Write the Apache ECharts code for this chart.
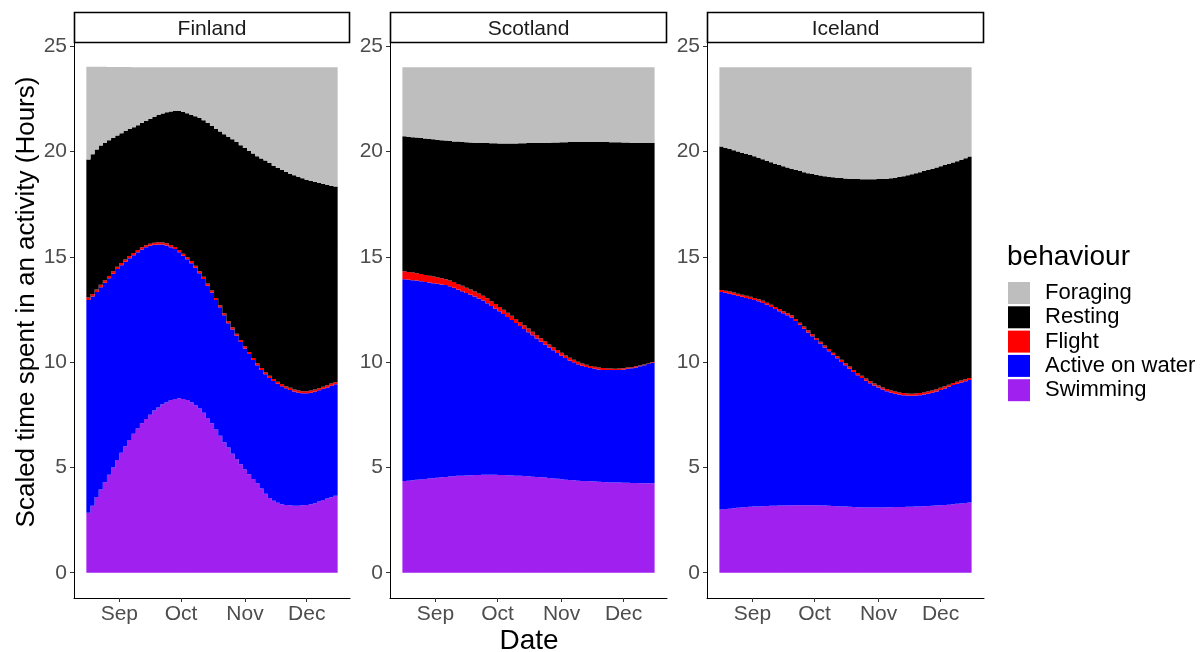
<!DOCTYPE html>
<html><head><meta charset="utf-8">
<script src="https://cdn.jsdelivr.net/npm/echarts@6/dist/echarts.min.js"></script>
<style>html,body{margin:0;padding:0;background:#fff}#c{width:1203px;height:652px}</style>
</head><body><div id="c"></div>
<script>
// ---------- data ----------
const dates = [
 '2019-08-17','2019-08-19','2019-08-21','2019-08-23','2019-08-25','2019-08-27','2019-08-29','2019-08-31',
 '2019-09-02','2019-09-04','2019-09-06','2019-09-08','2019-09-10','2019-09-12','2019-09-14','2019-09-16',
 '2019-09-18','2019-09-20','2019-09-22','2019-09-24','2019-09-26','2019-09-28','2019-09-30',
 '2019-10-02','2019-10-04','2019-10-06','2019-10-08','2019-10-10','2019-10-12','2019-10-14','2019-10-16',
 '2019-10-18','2019-10-20','2019-10-22','2019-10-24','2019-10-26','2019-10-28','2019-10-30',
 '2019-11-01','2019-11-03','2019-11-05','2019-11-07','2019-11-09','2019-11-11','2019-11-13','2019-11-15',
 '2019-11-17','2019-11-19','2019-11-21','2019-11-23','2019-11-25','2019-11-27','2019-11-29',
 '2019-12-01','2019-12-03','2019-12-05','2019-12-07','2019-12-09','2019-12-11','2019-12-13','2019-12-15'
];
// empty dates on the axis either side of the data (the plot's side padding)
const padBefore = ['2019-08-11', '2019-08-13', '2019-08-15'];
const padAfter = ['2019-12-17', '2019-12-19', '2019-12-21'];
const panels = ['Finland', 'Scotland', 'Iceland'];
const behaviours = ['Foraging', 'Resting', 'Flight', 'Active on water', 'Swimming'];
const monthTickDates = ['2019-09-01', '2019-10-01', '2019-11-01', '2019-12-01'];
const monthLabels = ['Sep', 'Oct', 'Nov', 'Dec'];
const yTicks = [0, 5, 10, 15, 20, 25];

const finlandSwimming = [2.85,3.18,3.6,3.95,4.3,4.65,5.0,5.35,5.7,6.0, 6.3,6.6,6.85,7.1,7.3,7.5,7.7,7.85,8.0,8.1, 8.2,8.25,8.28,8.25,8.2,8.1,7.95,7.8,7.6,7.35, 7.1,6.8,6.5,6.2,5.95,5.65,5.4,5.15,4.9,4.68, 4.45,4.25,4.0,3.75,3.55,3.42,3.32,3.25,3.22,3.2, 3.18,3.18,3.2,3.22,3.25,3.3,3.38,3.45,3.52,3.58,3.65];
const finlandActive = [10.10,9.94,9.73,9.60,9.47,9.33,9.20,9.07,8.90,8.76, 8.63,8.48,8.37,8.25,8.15,8.02,7.87,7.74,7.58,7.44, 7.26,7.12,6.94,6.80,6.68,6.60,6.53,6.42,6.35,6.28, 6.20,6.15,6.10,6.02,5.90,5.90,5.85,5.80,5.75,5.70, 5.65,5.60,5.62,5.67,5.70,5.68,5.65,5.61,5.54,5.48, 5.42,5.37,5.32,5.30,5.30,5.30,5.28,5.28,5.28,5.30,5.30];
const finlandFlight = [0.12,0.12,0.12,0.12,0.12,0.11,0.11,0.11,0.11,0.11, 0.11,0.1,0.1,0.1,0.1,0.1,0.1,0.1,0.1,0.1, 0.1,0.1,0.1,0.1,0.1,0.1,0.1,0.1,0.1,0.1, 0.1,0.1,0.1,0.1,0.1,0.1,0.1,0.1,0.1,0.1, 0.1,0.1,0.1,0.1,0.1,0.1,0.1,0.1,0.1,0.1, 0.1,0.1,0.1,0.1,0.1,0.1,0.1,0.1,0.1,0.1,0.1];
const finlandResting = [6.55,6.63,6.65,6.62,6.53,6.44,6.33,6.23,6.16,6.10, 6.03,5.97,5.93,5.90,5.90,5.93,5.98,6.04,6.12,6.22, 6.34,6.45,6.60,6.73,6.84,6.95,7.10,7.28,7.43,7.62, 7.82,8.03,8.25,8.50,8.75,8.93,9.10,9.25,9.42,9.55, 9.70,9.83,9.95,10.05,10.10,10.13,10.15,10.16,10.17,10.17, 10.17,10.15,10.11,10.04,9.95,9.86,9.75,9.64,9.52,9.40,9.29];
const finlandForaging = [4.40,4.15,3.92,3.73,3.60,3.48,3.37,3.25,3.14,3.04, 2.94,2.85,2.75,2.65,2.55,2.45,2.35,2.27,2.20,2.14, 2.10,2.08,2.08,2.12,2.18,2.25,2.32,2.40,2.52,2.65, 2.78,2.92,3.05,3.18,3.30,3.42,3.55,3.70,3.83,3.97, 4.10,4.22,4.33,4.43,4.55,4.67,4.78,4.88,4.97,5.05, 5.13,5.20,5.27,5.34,5.40,5.44,5.49,5.53,5.58,5.62,5.66];

const scotlandSwimming = [4.35,4.37,4.39,4.41,4.43,4.45,4.47,4.49,4.51,4.53, 4.55,4.57,4.58,4.60,4.61,4.62,4.63,4.64,4.64,4.65, 4.65,4.65,4.65,4.64,4.64,4.63,4.62,4.61,4.60,4.59, 4.58,4.56,4.55,4.53,4.52,4.50,4.48,4.46,4.44,4.42, 4.40,4.39,4.37,4.36,4.35,4.34,4.33,4.32,4.31,4.30, 4.29,4.28,4.28,4.27,4.27,4.26,4.26,4.25,4.25,4.25,4.25];
const scotlandActive = [9.58,9.54,9.50,9.46,9.41,9.36,9.31,9.26,9.21,9.16, 9.11,9.03,8.95,8.85,8.76,8.66,8.57,8.47,8.38,8.27, 8.15,8.02,7.89,7.77,7.64,7.51,7.38,7.25,7.12,6.98, 6.84,6.71,6.57,6.44,6.31,6.19,6.08,5.97,5.86,5.77, 5.68,5.60,5.53,5.47,5.42,5.38,5.35,5.33,5.32,5.32, 5.33,5.34,5.35,5.38,5.41,5.45,5.49,5.55,5.60,5.66,5.72];
const scotlandFlight = [0.38,0.37,0.36,0.35,0.34,0.33,0.32,0.31,0.30,0.29, 0.28,0.27,0.27,0.26,0.26,0.25,0.25,0.24,0.24,0.23, 0.23,0.22,0.22,0.21,0.21,0.20,0.20,0.19,0.19,0.18, 0.18,0.17,0.17,0.16,0.16,0.15,0.15,0.14,0.14,0.13, 0.13,0.12,0.12,0.11,0.11,0.10,0.10,0.09,0.09,0.08, 0.08,0.07,0.07,0.06,0.06,0.05,0.05,0.04,0.04,0.03,0.03];
const scotlandResting = [6.41,6.42,6.43,6.44,6.46,6.48,6.50,6.52,6.54,6.56, 6.58,6.63,6.68,6.76,6.82,6.91,6.98,7.07,7.15,7.25, 7.37,7.50,7.63,7.76,7.89,8.04,8.18,8.33,8.48,8.64, 8.80,8.96,9.12,9.28,9.43,9.58,9.72,9.86,10.00,10.12, 10.24,10.34,10.43,10.51,10.57,10.63,10.67,10.71,10.73,10.75, 10.74,10.75,10.74,10.72,10.69,10.66,10.62,10.57,10.52,10.46,10.40];
const scotlandForaging = [3.28,3.30,3.32,3.34,3.36,3.38,3.40,3.42,3.44,3.46, 3.48,3.50,3.52,3.53,3.55,3.56,3.57,3.58,3.59,3.60, 3.60,3.61,3.61,3.62,3.62,3.62,3.62,3.62,3.61,3.61, 3.60,3.60,3.59,3.59,3.58,3.58,3.57,3.57,3.56,3.56, 3.55,3.55,3.55,3.55,3.55,3.55,3.55,3.55,3.55,3.55, 3.56,3.56,3.56,3.57,3.57,3.58,3.58,3.59,3.59,3.60,3.60];

const icelandSwimming = [3.00,3.02,3.04,3.06,3.08,3.10,3.12,3.13,3.14,3.15, 3.16,3.17,3.18,3.18,3.19,3.19,3.19,3.20,3.20,3.20, 3.20,3.20,3.20,3.20,3.19,3.19,3.18,3.17,3.16,3.15, 3.14,3.13,3.12,3.11,3.10,3.10,3.10,3.10,3.10,3.10, 3.11,3.11,3.12,3.12,3.12,3.13,3.13,3.14,3.15,3.16, 3.17,3.18,3.19,3.20,3.21,3.23,3.25,3.27,3.29,3.31,3.34];
const icelandActive = [10.33,10.27,10.21,10.14,10.07,10.00,9.93,9.87,9.81,9.74, 9.65,9.55,9.44,9.34,9.23,9.13,9.03,8.92,8.75,8.57, 8.39,8.21,8.03,7.85,7.68,7.50,7.34,7.18,7.02,6.86, 6.71,6.56,6.41,6.27,6.15,6.02,5.90,5.79,5.69,5.60, 5.51,5.44,5.38,5.34,5.31,5.28,5.27,5.27,5.28,5.30, 5.33,5.37,5.42,5.48,5.54,5.60,5.66,5.70,5.74,5.78,5.81];
const icelandFlight = [0.1,0.1,0.1,0.1,0.1,0.1,0.1,0.1,0.1,0.1, 0.1,0.1,0.1,0.1,0.1,0.1,0.1,0.1,0.1,0.1, 0.1,0.1,0.1,0.1,0.1,0.1,0.1,0.1,0.1,0.1, 0.1,0.1,0.1,0.1,0.1,0.1,0.1,0.1,0.1,0.1, 0.1,0.1,0.1,0.1,0.1,0.1,0.1,0.1,0.1,0.1, 0.1,0.1,0.1,0.1,0.1,0.1,0.1,0.1,0.1,0.1,0.1];
const icelandResting = [6.81,6.79,6.77,6.76,6.75,6.74,6.73,6.73,6.72,6.71, 6.72,6.74,6.77,6.80,6.84,6.88,6.92,6.96,7.07,7.20, 7.33,7.46,7.60,7.74,7.89,8.04,8.18,8.33,8.48,8.63, 8.77,8.92,9.07,9.21,9.33,9.46,9.58,9.69,9.80,9.90, 9.99,10.08,10.16,10.23,10.30,10.36,10.42,10.46,10.49,10.51, 10.52,10.53,10.53,10.52,10.51,10.49,10.47,10.47,10.48,10.49,10.51];
const icelandForaging = [3.76,3.82,3.88,3.94,4.00,4.06,4.12,4.17,4.23,4.30, 4.37,4.44,4.51,4.58,4.64,4.70,4.76,4.82,4.88,4.93, 4.98,5.03,5.07,5.11,5.14,5.17,5.20,5.22,5.24,5.26, 5.28,5.29,5.30,5.31,5.32,5.32,5.32,5.32,5.31,5.30, 5.29,5.27,5.24,5.21,5.17,5.13,5.08,5.03,4.98,4.93, 4.88,4.82,4.76,4.70,4.64,4.58,4.52,4.46,4.39,4.32,4.24];

// ---------- build ----------
const panelData = [
  {Swimming: finlandSwimming, 'Active on water': finlandActive, Flight: finlandFlight, Resting: finlandResting, Foraging: finlandForaging},
  {Swimming: scotlandSwimming, 'Active on water': scotlandActive, Flight: scotlandFlight, Resting: scotlandResting, Foraging: scotlandForaging},
  {Swimming: icelandSwimming, 'Active on water': icelandActive, Flight: icelandFlight, Resting: icelandResting, Foraging: icelandForaging}
];
const colors = {Swimming: '#A020F0', 'Active on water': '#0000FF', Flight: '#FF0000', Resting: '#000000', Foraging: '#BEBEBE'};
const stackOrder = ['Swimming', 'Active on water', 'Flight', 'Resting', 'Foraging'];
const axisDates = padBefore.concat(dates, padAfter);
const origin = Date.parse('2019-08-01');
const dayOf = d => Math.round((Date.parse(d) - origin) / 86400000);   // days since 1 Aug
// the date scale that matches the category bands: first band starts 1 day before its date
const dayMin = dayOf(axisDates[0]) - 1;
const dayMax = dayOf(axisDates[axisDates.length - 1]) + 1;
const tickDays = monthTickDates.map(dayOf);

const FONT = '"Liberation Sans", Arial, sans-serif';
const gridBoxes = [{left: 74, width: 276}, {left: 390, width: 277}, {left: 707, width: 277}];
const TOP = 42, HEIGHT = 556;

const grid = [], xAxis = [], yAxis = [], series = [], graphic = [];
gridBoxes.forEach((g, k) => {
  grid.push({left: g.left, top: TOP, width: g.width, height: HEIGHT, containLabel: false});
  // hidden category axis carrying the bars
  xAxis.push({type: 'category', gridIndex: k, data: axisDates, position: 'top', show: false, boundaryGap: true});
  // visible date axis for month ticks
  xAxis.push({
    type: 'value', gridIndex: k, min: dayMin, max: dayMax, position: 'bottom',
    axisLine: {show: true, onZero: false, lineStyle: {color: '#000', width: 1}},
    axisTick: {show: true, length: 4, customValues: tickDays, lineStyle: {color: '#333', width: 1}},
    axisLabel: {show: true, customValues: tickDays, margin: 6, color: '#4D4D4D', fontSize: 21, fontFamily: FONT,
      formatter: v => { const i = tickDays.indexOf(Math.round(v)); return i >= 0 ? monthLabels[i] : ''; }},
    splitLine: {show: false}
  });
  yAxis.push({
    type: 'value', gridIndex: k, min: -1.2, max: 25.2,
    axisLine: {show: true, onZero: false, lineStyle: {color: '#000', width: 1}},
    axisTick: {show: true, length: 4, customValues: yTicks, lineStyle: {color: '#333', width: 1}},
    axisLabel: {show: true, customValues: yTicks, margin: 7, color: '#4D4D4D', fontSize: 21, fontFamily: FONT},
    splitLine: {show: false}
  });
  stackOrder.forEach(b => {
    series.push({
      type: 'bar', name: b, xAxisIndex: 2 * k, yAxisIndex: k, stack: 'p' + k,
      barCategoryGap: '0%',
      large: true, largeThreshold: 10,   // one path per series: no seams between adjacent bars
      itemStyle: {color: colors[b]},
      emphasis: {disabled: true},
      data: panelData[k][b].map((v, i) => [dates[i], v])
    });
  });
  // facet strip
  graphic.push({type: 'rect', z: 10, shape: {x: g.left + 0.5, y: 12.5, width: g.width - 1, height: 30},
    style: {fill: '#fff', stroke: '#000', lineWidth: 1.6}});
  graphic.push({type: 'text', z: 11, x: g.left + g.width / 2, y: 29,
    style: {text: panels[k], fill: '#1A1A1A', font: '21px ' + FONT, textAlign: 'center', textVerticalAlign: 'middle'}});
});

graphic.push({type: 'text', x: 529, y: 641,
  style: {text: 'Date', fill: '#000', font: '28px ' + FONT, textAlign: 'center', textVerticalAlign: 'middle'}});
graphic.push({type: 'text', x: 27, y: 302, rotation: Math.PI / 2,
  style: {text: 'Scaled time spent in an activity (Hours)', fill: '#000', font: '26px ' + FONT, textAlign: 'center', textVerticalAlign: 'middle'}});
graphic.push({type: 'text', x: 1007, y: 257,
  style: {text: 'behaviour', fill: '#000', font: '28px ' + FONT, textAlign: 'left', textVerticalAlign: 'middle'}});

const chart = echarts.init(document.getElementById('c'), null, {renderer: 'canvas'});
chart.setOption({
  animation: false,
  backgroundColor: '#fff',
  grid, xAxis, yAxis, series, graphic,
  legend: {
    data: behaviours, orient: 'vertical', left: 1008, top: 282, padding: 0,
    itemWidth: 22, itemHeight: 22, itemGap: 2.3, icon: 'rect',
    itemStyle: {borderWidth: 0},
    textStyle: {fontSize: 22, color: '#000', fontFamily: FONT, lineHeight: 22, padding: [0, 0, 0, 10]},
    selectedMode: false
  },
  tooltip: {show: false}
});
</script>
</body></html>
